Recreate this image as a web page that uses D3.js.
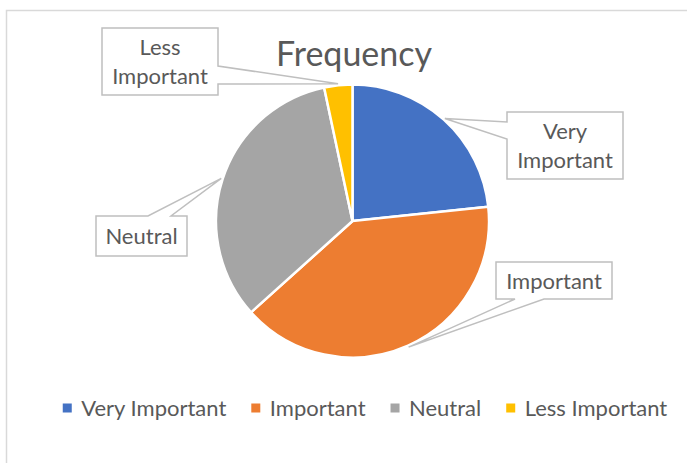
<!DOCTYPE html>
<html>
<head>
<meta charset="utf-8">
<script src="https://cdn.jsdelivr.net/npm/d3@7"></script>
<style>
  html, body { margin: 0; padding: 0; background: #ffffff; }
  svg { display: block; }
  text { font-family: Lato, "Open Sans", sans-serif; fill: #595959; }
</style>
</head>
<body>
<svg id="chart" width="687" height="463"></svg>
<script>
// Survey answers: how often each importance rating was given
const categories = ["Very Important", "Important", "Neutral", "Less Important"];
const frequency = [14, 24, 20, 2];
const sliceColors = ["#4472C4", "#ED7D31", "#A5A5A5", "#FFC000"];
const chartTitle = "Frequency";
const calloutText = [["Very", "Important"], ["Important"], ["Neutral"], ["Less", "Important"]];

const svg = d3.select("#chart");
const W = 687, H = 463;

// outer chart frame
svg.append("rect")
  .attr("x", 6.5).attr("y", 10.5)
  .attr("width", W + 20).attr("height", H + 20)
  .attr("fill", "#ffffff")
  .attr("stroke", "#D9D9D9").attr("stroke-width", 1.5);

// title
svg.append("text")
  .attr("x", 354).attr("y", 66)
  .attr("text-anchor", "middle")
  .style("font-size", "34px")
  .text(chartTitle);

// pie
const cx = 352.5, cy = 221, R = 136.5;
const pie = d3.pie().sort(null).value(d => d)(frequency);
const arc = d3.arc().innerRadius(0).outerRadius(R);
const g = svg.append("g").attr("transform", `translate(${cx},${cy})`);
g.selectAll("path.slice")
  .data(pie)
  .join("path")
  .attr("class", "slice")
  .attr("d", arc)
  .attr("fill", (d, i) => sliceColors[i])
  .attr("stroke", "#ffffff")
  .attr("stroke-width", 2.5)
  .attr("stroke-linejoin", "round");

// callout boxes: box rectangle, side carrying the pointer and the pointer's base span
const calloutBoxes = [
  { x: 507, y: 112, w: 116, h: 67, side: "left",   a: 122, b: 139 },
  { x: 496, y: 262, w: 116, h: 37, side: "bottom", a: 515, b: 544 },
  { x: 96,  y: 216, w: 91,  h: 40, side: "top",    a: 148, b: 171 },
  { x: 102, y: 28,  w: 116, h: 67, side: "right",  a: 66,  b: 84 }
];
const tipArc = d3.arc().innerRadius(R + 1.5).outerRadius(R + 1.5);

function calloutPath(bx, tip) {
  const x0 = bx.x, y0 = bx.y, x1 = bx.x + bx.w, y1 = bx.y + bx.h;
  const [tx, ty] = tip;
  const p = d3.path();
  p.moveTo(x0, y0);
  if (bx.side === "top") { p.lineTo(bx.a, y0); p.lineTo(tx, ty); p.lineTo(bx.b, y0); }
  p.lineTo(x1, y0);
  if (bx.side === "right") { p.lineTo(x1, bx.a); p.lineTo(tx, ty); p.lineTo(x1, bx.b); }
  p.lineTo(x1, y1);
  if (bx.side === "bottom") { p.lineTo(bx.b, y1); p.lineTo(tx, ty); p.lineTo(bx.a, y1); }
  p.lineTo(x0, y1);
  if (bx.side === "left") { p.lineTo(x0, bx.b); p.lineTo(tx, ty); p.lineTo(x0, bx.a); }
  p.closePath();
  return p.toString();
}

const callouts = svg.append("g");
pie.forEach((d, i) => {
  const c = tipArc.centroid(d);
  const tip = [cx + c[0], cy + c[1]];
  const bx = calloutBoxes[i];
  callouts.append("path")
    .attr("d", calloutPath(bx, tip))
    .attr("fill", "#ffffff")
    .attr("stroke", "#BFBFBF")
    .attr("stroke-width", 1.5)
    .attr("stroke-linejoin", "miter");
  const lines = calloutText[i];
  const lh = 29.5;
  const midY = bx.y + bx.h / 2;
  lines.forEach((ln, k) => {
    callouts.append("text")
      .attr("x", bx.x + bx.w / 2)
      .attr("y", midY + (k - (lines.length - 1) / 2) * lh + 8)
      .attr("text-anchor", "middle")
      .style("font-size", "22px")
      .text(ln);
  });
});

// legend
const legend = svg.append("g");
const items = categories.map((name, i) => {
  const t = legend.append("text")
    .attr("y", 416)
    .style("font-size", "22px")
    .text(name);
  return { t, w: t.node().getComputedTextLength(), i };
});
const sq = 9, sqGap = 9.5, itemGap = 25;
const total = d3.sum(items, d => sq + sqGap + d.w) + itemGap * (items.length - 1);
let lx = 365 - total / 2;
items.forEach(d => {
  legend.append("rect")
    .attr("x", lx).attr("y", 403.5)
    .attr("width", sq).attr("height", sq)
    .attr("fill", sliceColors[d.i]);
  d.t.attr("x", lx + sq + sqGap);
  lx += sq + sqGap + d.w + itemGap;
});
</script>
</body>
</html>
